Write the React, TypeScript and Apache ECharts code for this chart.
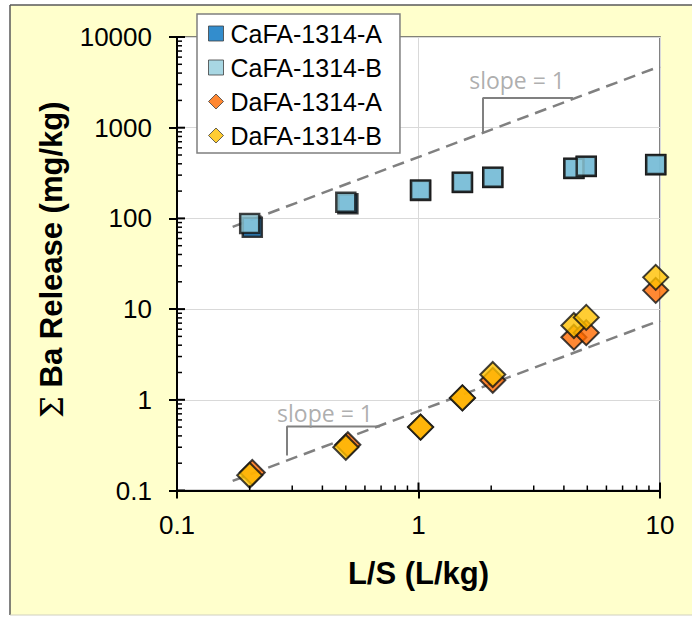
import React, { useEffect, useRef } from "react";
import * as echarts from "echarts";

// ---- data ----
const lsA = [0.205, 0.51, 1.02, 1.52, 2.03, 4.4, 4.95, 9.6];
const lsB = [0.2, 0.5, 1.02, 1.52, 2.03, 4.4, 4.95, 9.6];
const caA = [80, 145, 203, 248, 282, 355, 373, 390];
const caB = [88, 151, 205, 251, 285, 358, 377, 392];
const daA = [0.158, 0.32, 0.5, 1.05, 1.64, 4.9, 5.5, 16.1];
const daB = [0.147, 0.3, 0.5, 1.05, 1.9, 6.6, 8.1, 22.4];

const seriesNames = ["CaFA-1314-A", "CaFA-1314-B", "DaFA-1314-A", "DaFA-1314-B"];

const xTickLabels = ["0.1", "1", "10"];
const yTickLabels = ["0.1", "1", "10", "100", "1000", "10000"];
const xMajor = [0.1, 1, 10];
const yMajor = [0.1, 1, 10, 100, 1000, 10000];
const minorMultipliers = [2, 3, 4, 5, 6, 7, 8, 9];

// slope = 1 guide lines and their brackets
const upperGuide = [[0.17, 80.75], [10, 4750]];
const lowerGuide = [[0.17, 0.1275], [10, 7.5]];
const upperBracket = [[1.85, 880], [1.85, 2120], [4.36, 2120]];
const lowerBracket = [[0.2855, 0.243], [0.2855, 0.508], [0.693, 0.508]];
const slopeTexts = [[2.56, 3350], [0.41, 0.708]];

const zip = (xs: number[], ys: number[]) => xs.map((x, i) => [x, ys[i]]);

export default function App() {
  const ref = useRef<HTMLDivElement>(null);
  useEffect(() => {
    if (!ref.current) return;
    const chart = echarts.init(ref.current, undefined, { renderer: "svg" });

    const tickData: number[][] = [];
    xMajor.forEach((v) => tickData.push([v, 0.1, 8, 0]));
    yMajor.forEach((v) => tickData.push([0.1, v, 8, 1]));
    xMajor.slice(0, -1).forEach((d) =>
      minorMultipliers.forEach((m) => tickData.push([d * m, 0.1, 5, 0]))
    );
    yMajor.slice(0, -1).forEach((d) =>
      minorMultipliers.forEach((m) => tickData.push([0.1, d * m, 5, 1]))
    );

    const font = "'Liberation Sans', Arial, sans-serif";

    const option: any = {
      animation: false,
      backgroundColor: "#FFFFCC",
      textStyle: { fontFamily: font },
      graphic: [
        { type: "rect", shape: { x: 0, y: 0, width: 10, height: 620 }, style: { fill: "#fff" }, silent: true },
        { type: "rect", shape: { x: 0, y: 0, width: 692, height: 5 }, style: { fill: "#fff" }, silent: true },
        { type: "rect", shape: { x: 0, y: 615, width: 692, height: 5 }, style: { fill: "#fff" }, silent: true },
        { type: "line", shape: { x1: 10, y1: 5, x2: 692, y2: 5 }, style: { stroke: "#595959", lineWidth: 1.5 }, silent: true },
        { type: "line", shape: { x1: 10, y1: 5, x2: 10, y2: 615 }, style: { stroke: "#595959", lineWidth: 1.5 }, silent: true },
        { type: "line", shape: { x1: 10, y1: 615, x2: 692, y2: 615 }, style: { stroke: "#d0d0c0", lineWidth: 1 }, silent: true },
      ],
      grid: {
        left: 177,
        right: 32,
        top: 37,
        bottom: 129.5,
        show: true,
        backgroundColor: "#ffffff",
        borderColor: "#595959",
        borderWidth: 1.5,
      },
      legend: {
        orient: "vertical",
        left: 197,
        top: 14,
        data: seriesNames,
        backgroundColor: "#ffffff",
        borderColor: "#7f7f7f",
        borderWidth: 1.5,
        borderRadius: 0,
        padding: [7, 18, 5, 11],
        itemGap: 9,
        itemWidth: 15,
        itemHeight: 15,
        itemStyle: { borderWidth: 1, borderColor: "#404040" },
        textStyle: { fontSize: 25, color: "#000", fontFamily: font, lineHeight: 24, padding: [0, 0, 0, 2] },
      },
      xAxis: {
        type: "log",
        logBase: 10,
        min: 0.1,
        max: 10,
        name: "L/S (L/kg)",
        nameLocation: "middle",
        nameGap: 67,
        nameTextStyle: { fontSize: 31, fontWeight: "bold", color: "#000", fontFamily: font },
        axisLine: { show: true, onZero: false, lineStyle: { color: "#000", width: 2 } },
        axisTick: { show: true, inside: false, length: 8, lineStyle: { color: "#000", width: 2 } },
        axisLabel: {
          fontSize: 26,
          color: "#000",
          margin: 21,
          fontFamily: font,
          formatter: (v: number, i: number) => xTickLabels[i] ?? String(v),
        },
        splitLine: { show: true, lineStyle: { color: "#d9d9d9", width: 1 } },
        minorTick: { show: false },
      },
      yAxis: {
        type: "log",
        logBase: 10,
        min: 0.1,
        max: 10000,
        name: "{s|Σ} Ba Release (mg/kg)",
        nameLocation: "middle",
        nameRotate: 90,
        nameGap: 110,
        nameTextStyle: {
          fontSize: 31,
          fontWeight: "bold",
          color: "#000",
          fontFamily: font,
          padding: [0, 0, 0, 8],
          rich: { s: { fontSize: 31, fontWeight: "normal", color: "#000", fontFamily: "'DejaVu Serif', serif" } },
        },
        axisLine: { show: true, onZero: false, lineStyle: { color: "#000", width: 2 } },
        axisTick: { show: true, inside: false, length: 8, lineStyle: { color: "#000", width: 2 } },
        axisLabel: {
          fontSize: 26,
          color: "#000",
          margin: 25,
          fontFamily: font,
          formatter: (v: number, i: number) => yTickLabels[i] ?? String(v),
        },
        splitLine: { show: true, lineStyle: { color: "#d9d9d9", width: 1 } },
        minorTick: { show: false },
      },
      series: [
        {
          type: "custom",
          name: "ticks",
          silent: true,
          clip: false,
          z: 5,
          encode: { x: 0, y: 1 },
          data: tickData,
          renderItem: (params: any, api: any) => {
            const p = api.coord([api.value(0), api.value(1)]);
            const len = api.value(2);
            const dir = api.value(3);
            const shape =
              dir === 0
                ? { x1: p[0], y1: p[1], x2: p[0], y2: p[1] - len }
                : { x1: p[0], y1: p[1], x2: p[0] + len, y2: p[1] };
            return { type: "line", shape, style: { stroke: "#000", lineWidth: len > 6 ? 2 : 1.5 } };
          },
        },
        {
          type: "line",
          name: "upperGuide",
          data: upperGuide,
          symbol: "none",
          silent: true,
          z: 1,
          lineStyle: { color: "#808080", width: 2.5, type: [12, 7] },
        },
        {
          type: "line",
          name: "lowerGuide",
          data: lowerGuide,
          symbol: "none",
          silent: true,
          z: 1,
          lineStyle: { color: "#808080", width: 2.5, type: [12, 7] },
        },
        {
          type: "line",
          name: "upperBracket",
          data: upperBracket,
          symbol: "none",
          silent: true,
          z: 1,
          lineStyle: { color: "#808080", width: 2 },
        },
        {
          type: "line",
          name: "lowerBracket",
          data: lowerBracket,
          symbol: "none",
          silent: true,
          z: 1,
          lineStyle: { color: "#808080", width: 2 },
        },
        {
          type: "scatter",
          name: "slopeText",
          data: slopeTexts,
          symbolSize: 1,
          silent: true,
          z: 1,
          itemStyle: { color: "rgba(0,0,0,0)" },
          label: {
            show: true,
            position: "inside",
            formatter: "slope = 1",
            fontSize: 23,
            color: "#999999",
            fontFamily: "'Open Sans', 'Liberation Sans', sans-serif",
          },
        },
        {
          type: "scatter",
          name: seriesNames[0],
          data: zip(lsA, caA),
          symbol: "rect",
          symbolSize: 19,
          z: 3,
          itemStyle: { color: "#0070C0", borderColor: "#111", borderWidth: 2.5 },
        },
        {
          type: "scatter",
          name: seriesNames[1],
          data: zip(lsB, caB),
          symbol: "rect",
          symbolSize: 19,
          z: 3,
          itemStyle: { color: "#92CDDC", borderColor: "#111", borderWidth: 2.5 },
        },
        {
          type: "scatter",
          name: seriesNames[2],
          data: zip(lsA, daA),
          symbol: "diamond",
          symbolSize: 25,
          z: 3,
          itemStyle: { color: "#FF6A00", borderColor: "#111", borderWidth: 2 },
        },
        {
          type: "scatter",
          name: seriesNames[3],
          data: zip(lsB, daB),
          symbol: "diamond",
          symbolSize: 25,
          z: 3,
          itemStyle: { color: "#FFC000", borderColor: "#111", borderWidth: 2 },
        },
      ],
    };
    chart.setOption(option);
    return () => chart.dispose();
  }, []);

  return (
    <div
      ref={ref}
      style={{ position: "fixed", left: 0, top: 0, width: 692, height: 620, background: "#fff" }}
    />
  );
}
